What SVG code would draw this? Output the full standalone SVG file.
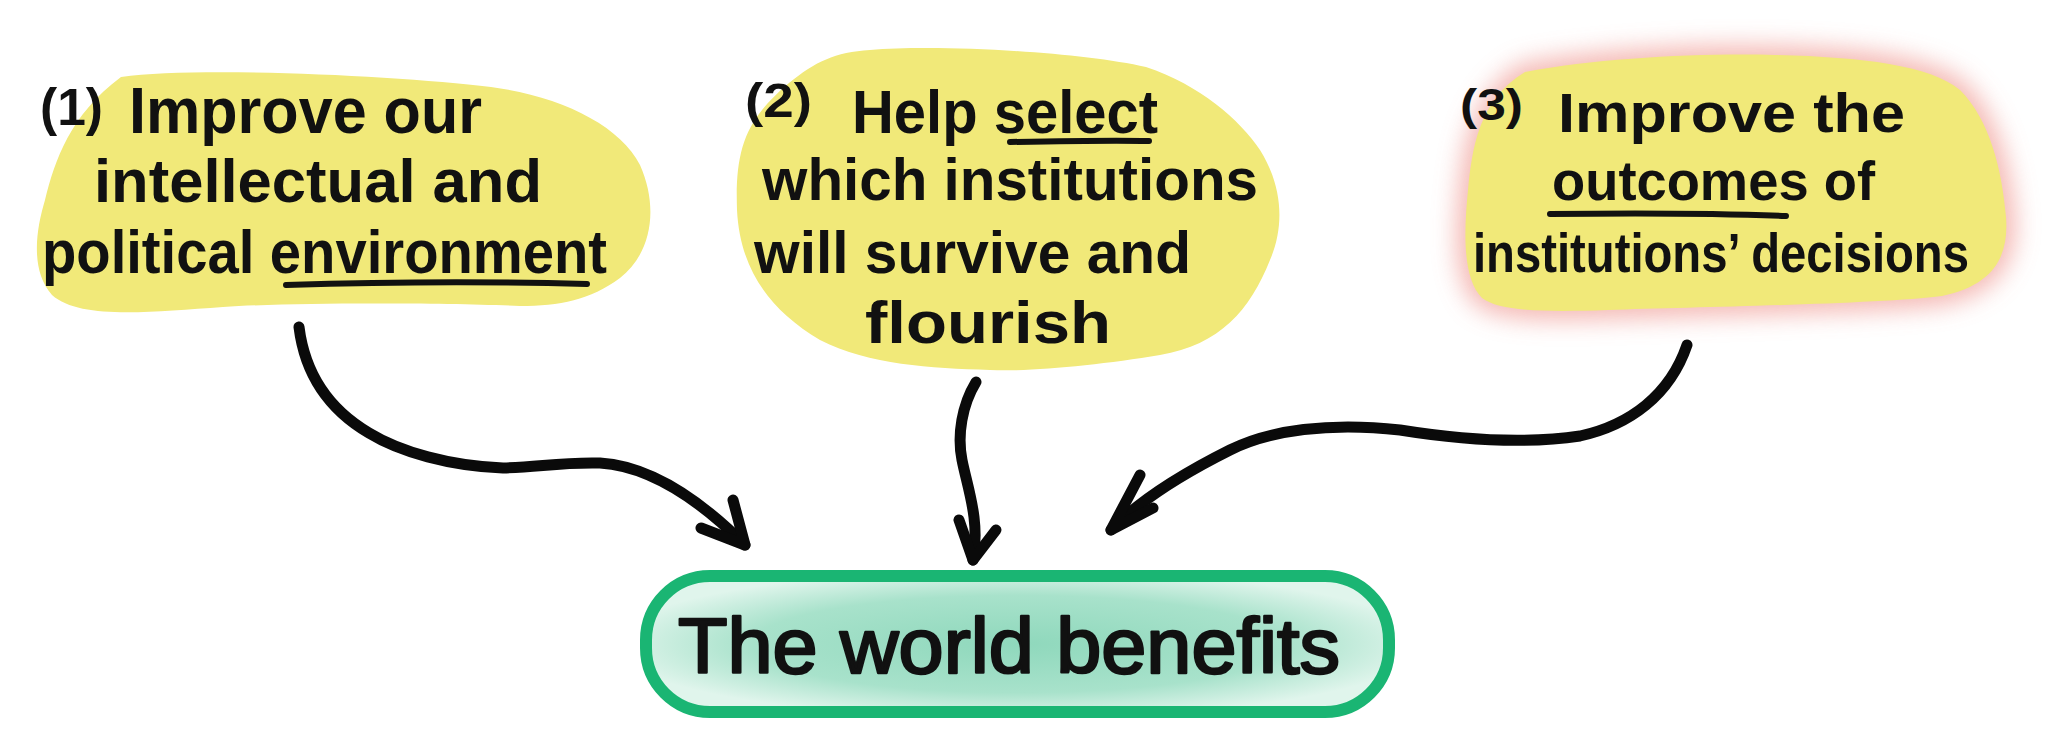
<svg xmlns="http://www.w3.org/2000/svg" width="2054" height="734" viewBox="0 0 2054 734">
<defs>
<style>
.blob{fill:#F1E979;}
.t{font-family:"Liberation Sans",Arial,sans-serif;font-weight:bold;fill:#111;}
.tm{font-family:"Liberation Sans",Arial,sans-serif;font-weight:normal;fill:#111;stroke:#111;stroke-width:2.5;stroke-linejoin:round;}
.ul{fill:none;stroke:#111;stroke-width:6;stroke-linecap:round;}
.arrow{fill:none;stroke:#0a0a0a;stroke-width:11;stroke-linecap:round;stroke-linejoin:round;}
</style>
<radialGradient id="mint" cx="50%" cy="50%" r="55%">
<stop offset="0%" stop-color="#8fd8bc"/>
<stop offset="65%" stop-color="#a8e2cb"/>
<stop offset="100%" stop-color="#e0f5ec"/>
</radialGradient>
<filter id="glow" x="-20%" y="-30%" width="140%" height="160%">
<feGaussianBlur stdDeviation="12"/>
</filter>
</defs>
<rect width="2054" height="734" fill="#ffffff"/>

<g id="node1">
<path class="blob" d="M121,77 C200,66 400,76 491,87 C560,96 620,125 640,165 C660,210 650,255 620,278 C590,300 560,306 520,306 C450,303 300,302 223,307 C150,312 80,320 52,295 C30,270 36,230 45,200 C55,160 70,115 121,77 Z"/>
<text class="t" x="40" y="125" font-size="52" textLength="63" lengthAdjust="spacingAndGlyphs">(1)</text>
<text class="t" x="129" y="133" font-size="64" textLength="353" lengthAdjust="spacingAndGlyphs">Improve our</text>
<text class="t" x="94" y="202" font-size="62" textLength="448" lengthAdjust="spacingAndGlyphs">intellectual and</text>
<text class="t" x="42" y="273" font-size="62" textLength="565" lengthAdjust="spacingAndGlyphs">political environment</text>
<path class="ul" d="M286,285 C380,282 480,281 587,284"/>
</g>

<g id="node2">
<path class="blob" d="M870,50 C940,44 1080,52 1146,67 C1200,85 1240,120 1260,150 C1285,190 1283,230 1270,260 C1250,310 1220,345 1160,355 C1100,365 1030,372 990,370 C930,368 870,365 820,340 C770,310 740,270 737,210 C735,150 745,120 789,83 C815,62 835,52 870,50 Z"/>
<text class="t" x="745" y="117" font-size="48" textLength="67" lengthAdjust="spacingAndGlyphs">(2)</text>
<text class="t" x="852" y="133" font-size="62" textLength="306" lengthAdjust="spacingAndGlyphs">Help select</text>
<path class="ul" d="M1010,142 C1060,141 1110,140 1149,141"/>
<text class="t" x="762" y="200" font-size="60" textLength="496" lengthAdjust="spacingAndGlyphs">which institutions</text>
<text class="t" x="754" y="273" font-size="60" textLength="437" lengthAdjust="spacingAndGlyphs">will survive and</text>
<text class="t" x="865" y="343" font-size="60" textLength="246" lengthAdjust="spacingAndGlyphs">flourish</text>
</g>

<g id="node3">
<path d="M1525,72 C1600,58 1700,53 1775,55 C1860,57 1930,65 1960,90 C1990,120 2002,170 2006,217 C2009,255 1995,285 1942,296 C1880,304 1700,307 1608,310 C1550,312 1500,312 1482,298 C1462,278 1464,230 1468,190 C1472,150 1478,100 1525,72 Z" fill="#f2a7a2" stroke="#f2a7a2" stroke-width="18" filter="url(#glow)" opacity="0.8"/>
<path class="blob" d="M1525,72 C1600,58 1700,53 1775,55 C1860,57 1930,65 1960,90 C1990,120 2002,170 2006,217 C2009,255 1995,285 1942,296 C1880,304 1700,307 1608,310 C1550,312 1500,312 1482,298 C1462,278 1464,230 1468,190 C1472,150 1478,100 1525,72 Z"/>
<text class="t" x="1460" y="120" font-size="44" textLength="63" lengthAdjust="spacingAndGlyphs">(3)</text>
<text class="t" x="1558" y="132" font-size="56" textLength="347" lengthAdjust="spacingAndGlyphs">Improve the</text>
<text class="t" x="1552" y="200" font-size="56" textLength="323" lengthAdjust="spacingAndGlyphs">outcomes of</text>
<path class="ul" d="M1550,214 C1630,213 1710,213 1786,216"/>
<text class="t" x="1473" y="272" font-size="56" textLength="496" lengthAdjust="spacingAndGlyphs">institutions’ decisions</text>
</g>

<g id="node4">
<rect x="646" y="576" width="743" height="136" rx="64" ry="64" fill="url(#mint)" stroke="#1ab573" stroke-width="12"/>
<text class="tm" x="678" y="673" font-size="78" textLength="662" lengthAdjust="spacingAndGlyphs">The world benefits</text>
</g>

<g id="connectors">
<path class="arrow" d="M299,327 C305,375 330,410 369,433 C400,452 450,466 503,468 C540,467 560,462 600,463 C650,466 700,500 745,545"/>
<path class="arrow" d="M733,500 L745,545 L701,528"/>
<path class="arrow" d="M976,382 C962,405 957,435 962,460 C968,490 980,520 973,560"/>
<path class="arrow" d="M959,520 L973,560 L996,530"/>
<path class="arrow" d="M1687,345 C1670,395 1630,425 1580,436 C1520,445 1450,438 1400,430 C1330,422 1270,430 1230,450 C1180,475 1140,500 1111,530"/>
<path class="arrow" d="M1140,475 L1111,530 L1153,508"/>
</g>
</svg>
